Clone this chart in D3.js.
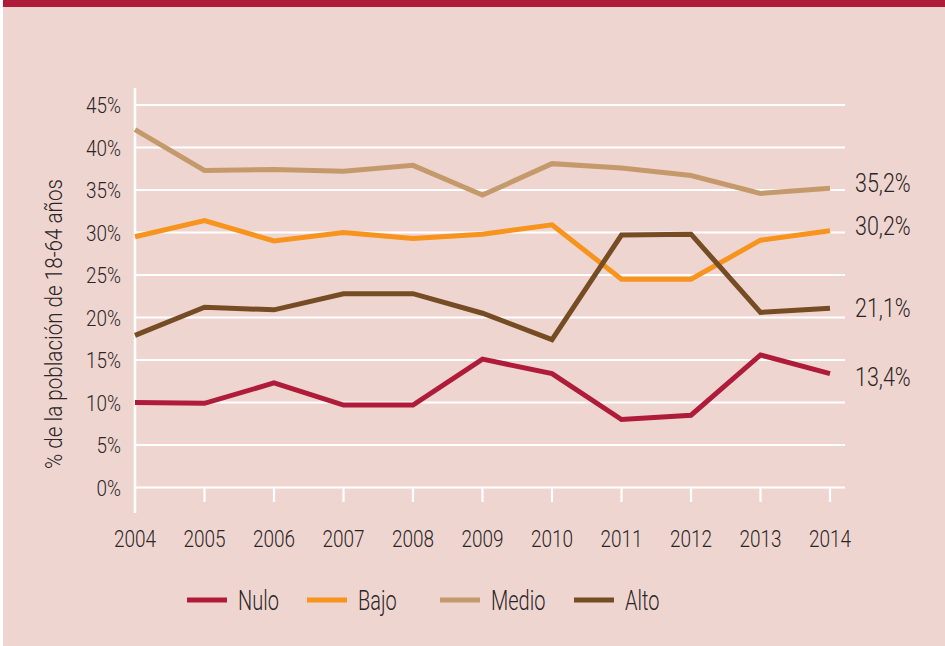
<!DOCTYPE html>
<html>
<head>
<meta charset="utf-8">
<script src="https://cdn.jsdelivr.net/npm/d3@7"></script>
<style>
  html, body { margin: 0; padding: 0; background: #ffffff; }
  svg text { font-family: "Roboto", "Liberation Sans", sans-serif; font-weight: 300; fill: #2b2527; }
</style>
</head>
<body>
<svg id="chart" width="945" height="646"></svg>
<script>
// data
var years = [2004, 2005, 2006, 2007, 2008, 2009, 2010, 2011, 2012, 2013, 2014];
var nulo  = [10.0, 9.9, 12.3, 9.7, 9.7, 15.1, 13.4, 8.0, 8.5, 15.6, 13.4];
var bajo  = [29.5, 31.4, 29.0, 30.0, 29.3, 29.8, 30.9, 24.5, 24.5, 29.1, 30.2];
var medio = [42.1, 37.3, 37.4, 37.2, 37.9, 34.4, 38.1, 37.6, 36.7, 34.6, 35.2];
var alto  = [17.9, 21.2, 20.9, 22.8, 22.8, 20.5, 17.4, 29.7, 29.8, 20.6, 21.1];
var yTicks = [0, 5, 10, 15, 20, 25, 30, 35, 40, 45];
var yTitle = "% de la población de 18-64 años";

var series = [
  {name: "Nulo",  values: nulo,  color: "#ae1c3a"},
  {name: "Bajo",  values: bajo,  color: "#f7941d"},
  {name: "Medio", values: medio, color: "#c49a6c"},
  {name: "Alto",  values: alto,  color: "#754c24"}
];

var svg = d3.select("#chart");

// no condensed font installed, so squeeze text horizontally
function cond(sel, x, y, sx) {
  sel.attr("transform", function(d, i){
    var xx = typeof x === "function" ? x(d, i) : x;
    var yy = typeof y === "function" ? y(d, i) : y;
    return "translate(" + xx + "," + yy + ") scale(" + sx + ",1)";
  });
  return sel;
}

// background panel + top band
svg.append("rect").attr("x", 3).attr("y", 0).attr("width", 942).attr("height", 646)
  .style("fill", "#efd5d0");
svg.append("rect").attr("x", 3).attr("y", 0).attr("width", 942).attr("height", 7)
  .style("fill", "#ae1c3a");

var x = d3.scaleLinear().domain([2004, 2014]).range([135, 830]);
var y = d3.scaleLinear().domain([0, 45]).range([487.5, 105]);

// gridlines
svg.append("g").selectAll("line").data(yTicks).enter().append("line")
  .attr("x1", 136).attr("x2", 845)
  .attr("y1", function(d){ return y(d); }).attr("y2", function(d){ return y(d); })
  .style("stroke", "#ffffff").style("stroke-width", 2.2);

// y axis line
svg.append("line").attr("x1", 135).attr("x2", 135).attr("y1", 88).attr("y2", 513)
  .style("stroke", "#ffffff").style("stroke-width", 2.5);

// x ticks
svg.append("g").selectAll("line").data(years.slice(1)).enter().append("line")
  .attr("x1", function(d){ return x(d); }).attr("x2", function(d){ return x(d); })
  .attr("y1", 487.5).attr("y2", 502)
  .style("stroke", "#ffffff").style("stroke-width", 2.2);

// y tick labels
cond(svg.append("g").selectAll("text").data(yTicks).enter().append("text"),
     121, function(d){ return y(d) + 8; }, 0.86)
  .attr("text-anchor", "end").style("font-size", "22px")
  .text(function(d){ return d + "%"; });

// x tick labels
cond(svg.append("g").selectAll("text").data(years).enter().append("text"),
     function(d){ return x(d); }, 547, 0.79)
  .attr("text-anchor", "middle").style("font-size", "24px")
  .text(function(d){ return d; });

// y title
svg.append("text")
  .attr("transform", "translate(62,324) rotate(-90) scale(0.86,1)")
  .attr("text-anchor", "middle").style("font-size", "24px")
  .text(yTitle);

// lines
var line = d3.line()
  .x(function(d, i){ return x(years[i]); })
  .y(function(d){ return y(d); });

svg.append("g").selectAll("path").data(series).enter().append("path")
  .attr("d", function(s){ return line(s.values); })
  .style("fill", "none")
  .style("stroke", function(s){ return s.color; })
  .style("stroke-width", 5)
  .style("stroke-linejoin", "miter");

// end labels (13,4% sits a bit below its line end in the original)
var endOffset = {"Nulo": 12, "Bajo": 4, "Medio": 4, "Alto": 9};
cond(svg.append("g").selectAll("text").data(series).enter().append("text"),
     855, function(s){ return y(s.values[s.values.length - 1]) + endOffset[s.name]; }, 0.86)
  .style("font-size", "25px")
  .text(function(s){ return d3.format(".1f")(s.values[s.values.length - 1]).replace(".", ",") + "%"; });

// legend
var legX = [187, 307, 440, 574];
var leg = svg.append("g").selectAll("g").data(series).enter().append("g")
  .attr("transform", function(s, i){ return "translate(" + legX[i] + ",600)"; });
leg.append("line").attr("x1", 0).attr("x2", 40).attr("y1", 0).attr("y2", 0)
  .style("stroke", function(s){ return s.color; }).style("stroke-width", 5);
cond(leg.append("text"), 51, 10, 0.74).style("font-size", "27px")
  .text(function(s){ return s.name; });
</script>
</body>
</html>
